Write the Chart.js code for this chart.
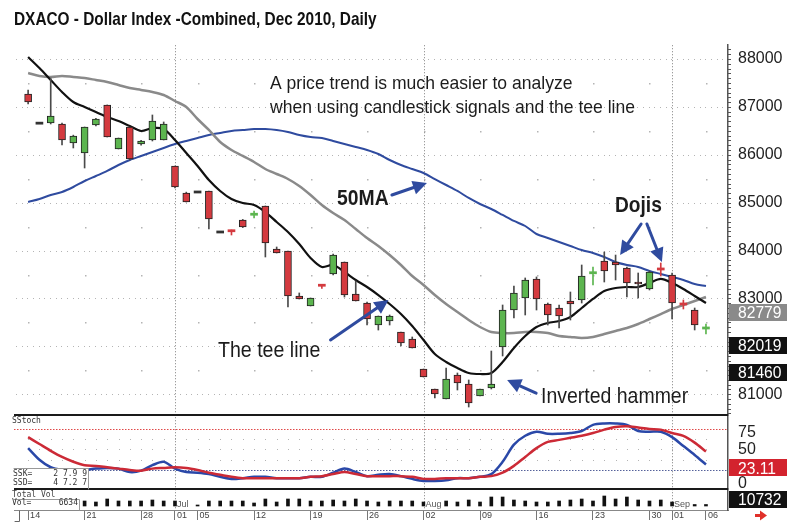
<!DOCTYPE html>
<html>
<head>
<meta charset="utf-8">
<script src="https://cdn.jsdelivr.net/npm/chart.js@4.4.1/dist/chart.umd.min.js"></script>
<style>
html,body{margin:0;padding:0;background:#fff;overflow:hidden;}
canvas{display:block;}
</style>
</head>
<body>
<canvas id="c" width="800" height="531"></canvas>
<script>
// ---------- DATA ----------
const dates = ['Jun 14','Jun 15','Jun 16','Jun 17','Jun 18','Jun 21','Jun 22','Jun 23','Jun 24','Jun 25',
 'Jun 28','Jun 29','Jun 30','Jul 01','Jul 02','Jul 05','Jul 06','Jul 07','Jul 08','Jul 09',
 'Jul 12','Jul 13','Jul 14','Jul 15','Jul 16','Jul 19','Jul 20','Jul 21','Jul 22','Jul 23',
 'Jul 26','Jul 27','Jul 28','Jul 29','Jul 30','Aug 02','Aug 03','Aug 04','Aug 05','Aug 06',
 'Aug 09','Aug 10','Aug 11','Aug 12','Aug 13','Aug 16','Aug 17','Aug 18','Aug 19','Aug 20',
 'Aug 23','Aug 24','Aug 25','Aug 26','Aug 27','Aug 30','Aug 31','Sep 01','Sep 02','Sep 03','Sep 06'];

const open  = [87269,86660,86664,86643,86246,86037,86622,87040,86121,86580,
 86225,86309,86309,85766,85202,85223,85244,84388,84430,84638,
 84743,84931,84033,83991,83052,82843,83292,83511,83762,83094,
 82905,82446,82529,82300,82154,81527,81110,80901,81402,81214,
 80964,81130,81986,82759,83010,83407,82884,82801,82947,82968,
 83521,83782,83761,83636,83344,83198,83626,83490,82895,82759,82373];
const high  = [87353,86660,87603,86660,86410,86580,86760,87040,86350,86580,
 86300,86831,86685,85766,85220,85223,85244,84388,84430,84650,
 84826,84931,84075,83991,83115,83010,83292,83928,83762,83365,
 82926,82634,82655,82300,82196,81527,81110,81548,81444,81298,
 81110,81903,82864,83260,83428,83449,82905,82864,83135,83699,
 83657,83970,83907,83657,83532,83574,83741,83532,82968,82801,82467];
const low   = [87060,86660,86643,86204,86142,85724,86600,86371,86121,85891,
 86200,86288,86309,85306,85014,85223,84450,84388,84325,84480,
 84680,83866,83949,82822,82989,82843,83208,83490,83030,82947,
 82446,82341,82446,82007,81966,81360,80921,80901,81089,80734,
 80964,81110,81799,82592,82655,82759,82446,82383,82550,82905,
 83281,83344,83386,83031,83010,83177,83469,82571,82780,82342,82258];
const close = [87102,86660,86810,86309,86392,86580,86747,86371,86350,85912,
 86288,86706,86643,85327,85014,85223,84659,84388,84398,84492,
 84774,84158,83949,83052,82989,83010,83260,83907,83073,82947,
 82571,82634,82634,82070,81966,81360,81005,81318,81235,80817,
 81110,81214,82759,83114,83386,82989,82655,82634,82884,83469,
 83553,83574,83699,83323,83302,83553,83605,82905,82874,82446,82394];

const teeLine = [88042,87812,87562,87311,87102,86998,86894,86789,86705,86601,
 86497,86559,86538,86309,86037,85766,85473,85244,85077,84993,
 84951,84805,84597,84388,84137,83845,83657,83699,83553,83386,
 83239,83072,82884,82675,82425,82133,81841,81674,81548,81444,
 81423,81444,81674,81966,82216,82404,82488,82529,82613,82801,
 82989,83156,83219,83239,83239,83323,83407,83323,83198,83052,82905];
const ma20 = [87708,87645,87624,87645,87624,87603,87562,87520,87457,87394,
 87353,87311,87248,87123,86998,86747,86518,86267,86100,85975,
 85849,85703,85599,85494,85348,85160,84951,84784,84638,84450,
 84262,84095,83907,83699,83469,83281,83072,82884,82717,82550,
 82404,82300,82279,82279,82300,82300,82279,82216,82196,82175,
 82196,82258,82321,82383,82467,82571,82675,82780,82864,82947,83030];
const ma50 = [85014,85077,85160,85223,85327,85453,85557,85662,85787,85891,
 85975,86058,86142,86225,86288,86350,86413,86455,86497,86517,
 86538,86538,86517,86476,86413,86371,86350,86288,86225,86163,
 86100,86016,85891,85787,85703,85620,85494,85369,85244,85098,
 84972,84868,84743,84618,84513,84346,84263,84179,84096,84012,
 83949,83866,83761,83699,83657,83574,83511,83449,83386,83302,83260];

const stochK = [52,35,24,20,19,20,22,23,22,17,19,27,32,22,17,16,14,10,7,8,
 10,10,8,8,8,10,10,16,22,17,11,13,14,11,7,4,4,5,8,8,
 10,14,32,57,70,76,73,73,74,77,86,88,88,86,77,76,76,68,55,42,28];
const stochD = [68,58,48,39,32,27,26,24,22,20,19,22,23,24,23,20,16,13,10,8,
 8,8,8,8,8,10,11,14,17,14,11,11,11,11,10,7,7,8,8,8,
 10,11,16,26,39,52,61,64,67,70,74,79,83,84,82,80,79,74,70,60,47];
const volume = [5000,4000,6000,5000,5000,5000,4000,7000,5000,5000,
 5000,6000,5000,5000,4000,1000,5000,5000,5000,5000,
 3000,7000,4000,7000,7000,5000,5000,6000,5000,7000,
 5000,4000,5000,5000,5000,4000,4000,5000,4000,6000,
 4000,9000,9000,6000,5000,4000,4000,5000,6000,7000,
 5000,10000,7000,9000,6000,5000,6000,4000,1500,1500,1500];

const tickIdx  = [0,5,10,13,15,20,25,30,35,40,45,50,55,57,60];
const tickText = ['14','21','28','01','05','12','19','26','02','09','16','23','30','01','06'];
const monthIdx  = [13,35,57];
const monthText = ['Jul','Aug','Sep'];
const priceTicks = [81000,82000,83000,84000,85000,86000,87000,88000];
const stochTicks = [0,50,75];
const priceFlags = [82779, 82019, 81460];
const stochFlag = 23.11;
const volFlag = 10732;
const statK = '27.99', statD = '47.27', statVol = '6634';

// ---------- STYLE ----------
const SANS = '"Liberation Sans",Arial,Helvetica,sans-serif';
const MONO = '"DejaVu Sans Mono","Liberation Mono",monospace';
const GREEN = '#5cb54f', RED = '#d43a3f', DARK = '#333333', BLUE = '#2f4b9f';

const idx = dates.map((d, i) => i);
const isFlat = i => high[i] === low[i];
const isDoji = i => !isFlat(i) && Math.abs(close[i] - open[i]) < 35;
const bodyColor = i => isFlat(i) ? DARK : (close[i] >= open[i] ? GREEN : RED);

const bodyData = idx.map(i => {
  if (isFlat(i) || isDoji(i)) { const m = (open[i] + close[i]) / 2; return {x: i, y: [m - 22, m + 22]}; }
  return {x: i, y: [Math.min(open[i], close[i]), Math.max(open[i], close[i])]};
});
const wickData = idx.map(i => ({x: i, y: [low[i], high[i]]}));
const pts = arr => arr.map((v, i) => ({x: i, y: v}));

function arrow(ctx, x1, y1, x2, y2, color, lw, hl, hw) {
  const a = Math.atan2(y2 - y1, x2 - x1);
  const bx = x2 - hl * Math.cos(a), by = y2 - hl * Math.sin(a);
  ctx.strokeStyle = color; ctx.lineWidth = lw; ctx.lineCap = 'round';
  ctx.beginPath(); ctx.moveTo(x1, y1); ctx.lineTo(bx, by); ctx.stroke();
  ctx.fillStyle = color; ctx.beginPath(); ctx.moveTo(x2, y2);
  ctx.lineTo(bx + hw * Math.sin(a), by - hw * Math.cos(a));
  ctx.lineTo(bx - hw * Math.sin(a), by + hw * Math.cos(a));
  ctx.closePath(); ctx.fill();
}
function ctext(ctx, text, x, y, font, sx) {
  ctx.save(); ctx.font = font; ctx.translate(x, y); ctx.scale(sx, 1);
  ctx.fillText(text, 0, 0); ctx.restore();
}

const arrows = [
  {i: 35.3, v: 85411, dx: -35, dy: 12},
  {i: 52.4, v: 83907, dx: 21, dy: -31},
  {i: 56.1, v: 83761, dx: -15, dy: -38},
  {i: 31.9, v: 82968, dx: -58, dy: 40},
  {i: 42.4, v: 81297, dx: 29, dy: 13}
];

const gridPlugin = {
  id: 'gridDots',
  beforeDatasetsDraw(chart) {
    const {ctx, chartArea: ca, scales: {x, y, yS, yV}} = chart;
    ctx.save();
    ctx.fillStyle = '#b4b4b4';
    for (let v = 81000; v <= 88000; v += 1000) {
      const py = Math.round(y.getPixelForValue(v));
      for (let px = ca.left + 2; px < ca.right - 1; px += 5.65) ctx.fillRect(Math.round(px), py, 1, 1);
    }
    for (let v = 81500; v <= 88000; v += 1000) {
      const py = Math.round(y.getPixelForValue(v));
      for (let i = 0; i < dates.length; i += 5) ctx.fillRect(Math.round(x.getPixelForValue(i)), py, 1.5, 1.5);
    }
    for (const v of [35, 50, 65]) {
      const py = Math.round(yS.getPixelForValue(v));
      for (let i = 0; i < dates.length; i += 1) ctx.fillRect(Math.round(x.getPixelForValue(i)), py, 1, 1);
    }
    ctx.fillStyle = '#9c9c9c';
    for (const i of monthIdx) {
      const px = Math.round(x.getPixelForValue(i));
      for (let py = ca.top; py < ca.bottom; py += 3) ctx.fillRect(px, py, 1, 1.3);
    }
    const p80 = Math.round(yS.getPixelForValue(80)), p20 = Math.round(yS.getPixelForValue(20));
    for (let px = ca.left; px < ca.right; px += 3) {
      ctx.fillStyle = '#e04848'; ctx.fillRect(px, p80, 1.5, 1);
      ctx.fillStyle = '#55619a'; ctx.fillRect(px, p20, 1.5, 1);
    }
    ctx.restore();
  },
  afterDraw(chart) {
    const {ctx, chartArea: ca, scales: {x, y, yS, yV}} = chart;
    ctx.save();
    ctx.fillStyle = '#1a1a1a';
    ctx.fillRect(ca.left, Math.round(yS.top) - 1, ca.right - ca.left, 2);
    ctx.fillRect(ca.left, Math.round(yV.top) - 1, ca.right - ca.left, 2);
    ctx.strokeStyle = '#555'; ctx.lineWidth = 1;
    ctx.beginPath();
    for (let v = 80600; v <= 88200; v += 100) {
      const py = Math.round(y.getPixelForValue(v)) + 0.5;
      ctx.moveTo(ca.right, py); ctx.lineTo(ca.right + 3, py);
    }
    ctx.stroke();

    ctx.textBaseline = 'alphabetic'; ctx.textAlign = 'left';
    ctx.fillStyle = '#111';
    ctext(ctx, 'DXACO - Dollar Index -Combined, Dec 2010, Daily', 14, 25, 'bold 19px ' + SANS, 0.81);
    ctx.fillStyle = '#1c1c1c';
    ctext(ctx, 'A price trend is much easier to analyze', 270, 89, '19px ' + SANS, 0.924);
    ctext(ctx, 'when using candlestick signals and the tee line', 270, 113, '19px ' + SANS, 0.924);
    ctext(ctx, '50MA', 337, 205, 'bold 22px ' + SANS, 0.88);
    ctext(ctx, 'Dojis', 615, 212, 'bold 22px ' + SANS, 0.87);
    ctext(ctx, 'The tee line', 218, 357, '22px ' + SANS, 0.89);
    ctext(ctx, 'Inverted hammer', 541, 403, '22px ' + SANS, 0.885);

    for (const a of arrows) {
      const tx = x.getPixelForValue(a.i), ty = y.getPixelForValue(a.v);
      arrow(ctx, tx + a.dx, ty + a.dy, tx, ty, BLUE, 3, 14, 7);
    }

    const flag = (text, yc, bg) => {
      ctx.fillStyle = bg; ctx.fillRect(ca.right + 1, Math.round(yc - 8.5), 58, 17);
      ctx.fillStyle = '#fff'; ctx.textBaseline = 'middle'; ctx.textAlign = 'left';
      ctext(ctx, text, ca.right + 10, yc + 1, '17px ' + SANS, 0.92);
    };
    flag(String(priceFlags[0]), y.getPixelForValue(priceFlags[0]) + 3, '#8a8a8a');
    flag(String(priceFlags[1]), y.getPixelForValue(priceFlags[1]), '#111');
    flag(String(priceFlags[2]), y.getPixelForValue(priceFlags[2]), '#111');
    flag(stochFlag.toFixed(2), yS.getPixelForValue(stochFlag), '#d3232e');
    flag(String(volFlag), (yV.top + yV.bottom) / 2, '#111');

    ctx.textBaseline = 'middle';
    ctx.font = '8px ' + MONO; ctx.fillStyle = '#333'; ctx.textAlign = 'left';
    ctx.fillText('SStoch', 12, Math.round(yS.top) + 6);
    ctx.fillStyle = '#fff'; ctx.fillRect(ca.left, 468, 74, Math.round(yS.bottom) - 469);
    ctx.strokeStyle = '#999'; ctx.lineWidth = 1;
    ctx.beginPath(); ctx.moveTo(ca.left, 468.5); ctx.lineTo(ca.left + 74.5, 468.5); ctx.lineTo(ca.left + 74.5, yS.bottom); ctx.stroke();
    ctx.fillStyle = '#333';
    ctx.fillText('SSK=', 13, 474); ctx.fillText('SSD=', 13, 483);
    ctx.textAlign = 'right';
    ctx.fillText(statK.split('').join(' ').replace(/ \. /g, '.'), 87, 474);
    ctx.fillText(statD.split('').join(' ').replace(/ \. /g, '.'), 87, 483);

    ctx.textAlign = 'left'; ctx.fillStyle = '#444';
    ctx.fillText('Total Vol', 12, Math.round(yV.top) + 6);
    ctx.fillStyle = '#fff'; ctx.fillRect(ca.left, 499, 65, Math.round(yV.bottom) - 499);
    ctx.strokeStyle = '#999';
    ctx.beginPath(); ctx.moveTo(ca.left, 499.5); ctx.lineTo(ca.left + 65.5, 499.5); ctx.lineTo(ca.left + 65.5, yV.bottom); ctx.stroke();
    ctx.fillStyle = '#333';
    ctx.fillText('Vol=', 12, 503);
    ctx.textAlign = 'right'; ctx.fillText(statVol, 78, 503);

    ctx.textAlign = 'left'; ctx.font = '9px ' + SANS;
    monthIdx.forEach((i, k) => {
      const px = x.getPixelForValue(i) + 2;
      const w = ctx.measureText(monthText[k]).width;
      ctx.fillStyle = '#fff'; ctx.fillRect(px, 500, w + 1, 9);
      ctx.fillStyle = '#555'; ctx.fillText(monthText[k], px, 505);
    });

    ctx.strokeStyle = '#666'; ctx.lineWidth = 1;
    ctx.beginPath(); ctx.moveTo(19.5, ca.bottom + 1); ctx.lineTo(19.5, 521.5); ctx.lineTo(15, 521.5); ctx.stroke();

    ctx.fillStyle = '#e0302a';
    ctx.fillRect(755, 514, 7, 3);
    ctx.beginPath(); ctx.moveTo(760, 510.5); ctx.lineTo(767, 515.5); ctx.lineTo(760, 520.5); ctx.closePath(); ctx.fill();
    ctx.restore();
  }
};

const chart = new Chart(document.getElementById('c'), {
  type: 'bar',
  data: {
    datasets: [
      {type: 'bar', label: 'body', data: bodyData, xAxisID: 'x', yAxisID: 'y', grouped: false,
       barThickness: 7, borderSkipped: false, backgroundColor: idx.map(bodyColor),
       borderColor: '#222', borderWidth: idx.map(i => (isFlat(i) || isDoji(i)) ? 0 : 1), order: 1},
      {type: 'bar', label: 'wick', data: wickData, xAxisID: 'x', yAxisID: 'y', grouped: false,
       barThickness: 1, borderSkipped: false, borderWidth: 0,
       backgroundColor: idx.map(i => isDoji(i) ? bodyColor(i) : '#4a4a4a'), order: 2},
      {type: 'line', label: 'Tee line', data: pts(teeLine), xAxisID: 'x', yAxisID: 'y',
       borderColor: '#111', borderWidth: 2.2, pointRadius: 0, tension: 0.3, order: 5},
      {type: 'line', label: 'MA20', data: pts(ma20), xAxisID: 'x', yAxisID: 'y',
       borderColor: '#8a8a8a', borderWidth: 2.5, pointRadius: 0, tension: 0.3, order: 6},
      {type: 'line', label: '50MA', data: pts(ma50), xAxisID: 'x', yAxisID: 'y',
       borderColor: '#2f4b9f', borderWidth: 2, pointRadius: 0, tension: 0.3, order: 7},
      {type: 'line', label: 'SK', data: pts(stochK), xAxisID: 'x', yAxisID: 'yS',
       borderColor: '#2a48a8', borderWidth: 2.5, pointRadius: 0, tension: 0.3, order: 4},
      {type: 'line', label: 'SD', data: pts(stochD), xAxisID: 'x', yAxisID: 'yS',
       borderColor: '#cc2a36', borderWidth: 2.5, pointRadius: 0, tension: 0.3, order: 3},
      {type: 'bar', label: 'Vol', data: pts(volume), xAxisID: 'x', yAxisID: 'yV', grouped: false,
       barThickness: 3, backgroundColor: '#111', borderWidth: 0, order: 2}
    ]
  },
  options: {
    responsive: false, animation: false, devicePixelRatio: 1, events: [],
    layout: {padding: {left: 14, top: 45, right: 0, bottom: 0}},
    plugins: {legend: {display: false}, tooltip: {enabled: false}, title: {display: false}},
    scales: {
      x: {type: 'linear', min: -1.25, max: 61.95, offset: false, position: 'bottom',
        afterBuildTicks: s => { s.ticks = tickIdx.map(v => ({value: v})); },
        ticks: {autoSkip: false, maxRotation: 0, minRotation: 0, align: 'start', labelOffset: 2, padding: -10,
          color: '#444', font: {family: SANS, size: 9}, callback: (v, i) => tickText[i]},
        grid: {display: true, drawOnChartArea: false, drawTicks: true, tickLength: 10, color: '#777', offset: false},
        border: {display: true, color: '#888', width: 1},
        afterFit: s => { s.height = 21; }},
      y: {type: 'linear', position: 'right', stack: 'panels', stackWeight: 370, min: 80567, max: 88292,
        afterBuildTicks: s => { s.ticks = priceTicks.map(v => ({value: v})); },
        ticks: {autoSkip: false, padding: 10, color: '#222', font: {family: SANS, size: 16}, callback: v => String(v)},
        grid: {display: false, drawTicks: false}, border: {display: true, color: '#555', width: 1.5},
        afterFit: s => { s.width = 72; }},
      yS: {type: 'linear', position: 'right', stack: 'panels', stackWeight: 74, min: -7.8, max: 100.4,
        afterBuildTicks: s => { s.ticks = stochTicks.map(v => ({value: v})); },
        ticks: {autoSkip: false, padding: 10, color: '#222', font: {family: SANS, size: 16}, callback: v => String(v)},
        grid: {display: false, drawTicks: false}, border: {display: true, color: '#555', width: 1.5},
        afterFit: s => { s.width = 72; }},
      yV: {type: 'linear', position: 'right', stack: 'panels', stackWeight: 21, min: -4000, max: 17000,
        ticks: {display: false}, grid: {display: false, drawTicks: false}, border: {display: true, color: '#555', width: 1.5},
        afterFit: s => { s.width = 72; }}
    }
  },
  plugins: [gridPlugin]
});
</script>
</body>
</html>
